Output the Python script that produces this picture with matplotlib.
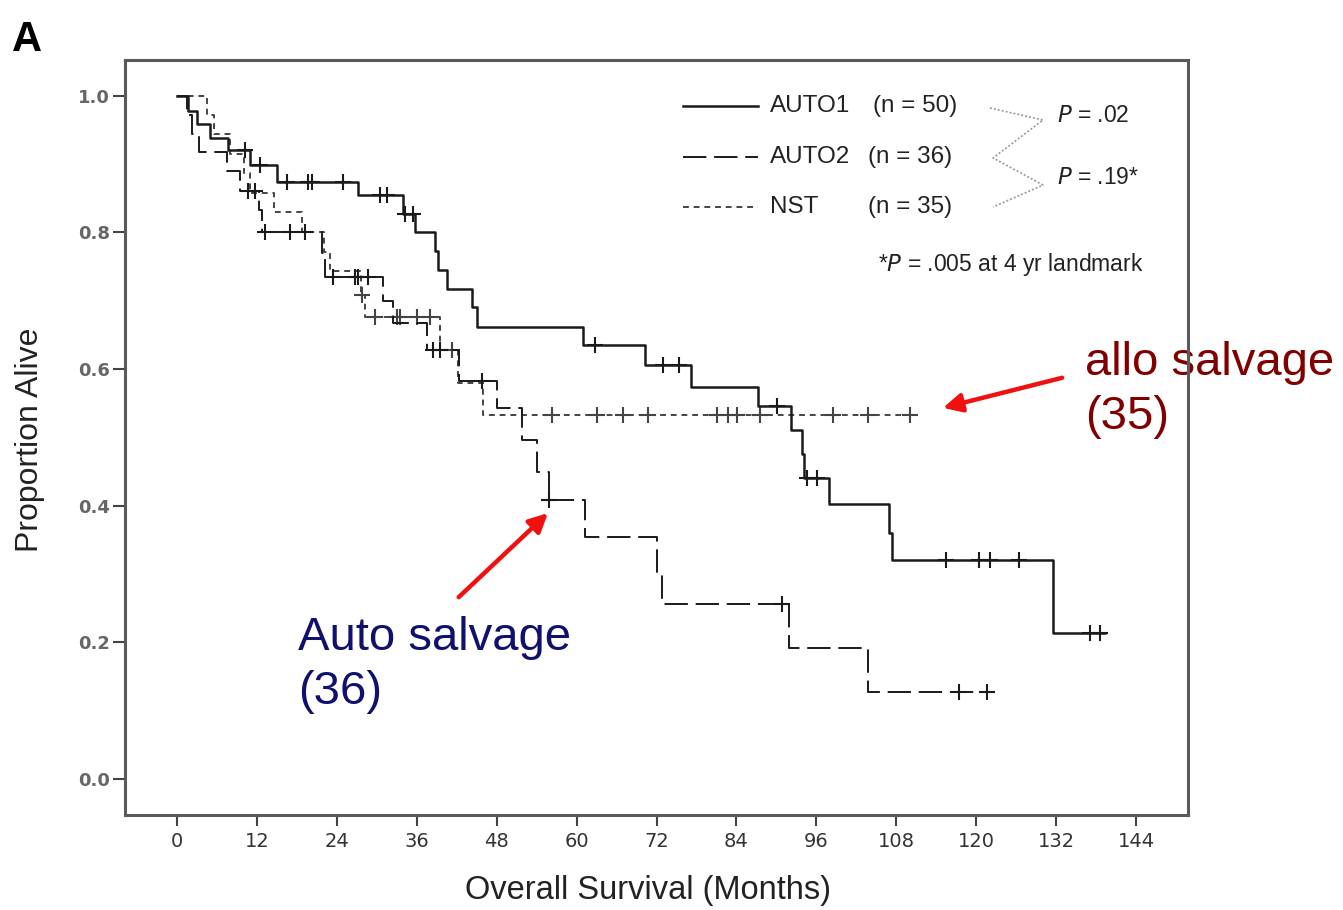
import matplotlib
matplotlib.use('Agg')
import matplotlib.pyplot as plt
import numpy as np
from matplotlib.ticker import FormatStrFormatter


# Kaplan-Meier steps (months, proportion alive) and censored times per group
auto1_times = [0, 1.7, 3.0, 5.0, 7.7, 11.0, 15.0, 27.2, 34.0, 35.7, 38.7, 39.2, 40.5, 44.3, 45.0,
               61.0, 70.3, 77.2, 87.2, 92.2, 93.8, 94.2, 97.9, 106.9, 107.4, 131.5, 139.3]
auto1_surv = [1.0, 0.978, 0.958, 0.938, 0.92, 0.898, 0.874, 0.854, 0.827, 0.80, 0.772, 0.745, 0.717,
              0.691, 0.662, 0.635, 0.606, 0.574, 0.545, 0.511, 0.476, 0.44, 0.403, 0.36, 0.32, 0.214, 0.214]
auto1_censored = [10.2, 12.5, 16.5, 19.7, 20.2, 25.0, 30.5, 31.5, 34.2, 35.4, 62.8, 73.0, 75.4,
                  90.1, 94.6, 96.1, 115.5, 120.4, 122.1, 126.4, 137.1, 138.6]

auto2_times = [0, 1.5, 2.2, 3.3, 7.5, 9.5, 12.3, 12.8, 21.8, 22.2, 31.0, 32.4, 37.5, 42.3, 48.0,
               51.8, 54.0, 55.9, 61.3, 72.1, 72.8, 91.9, 103.8, 122.0]
auto2_surv = [1.0, 0.972, 0.944, 0.917, 0.889, 0.861, 0.833, 0.80, 0.77, 0.735, 0.70, 0.667, 0.628,
              0.583, 0.543, 0.496, 0.449, 0.408, 0.354, 0.303, 0.256, 0.191, 0.127, 0.127]
auto2_censored = [10.7, 11.7, 13.2, 17.0, 19.2, 23.4, 26.7, 27.2, 28.7, 38.5, 39.5, 45.8, 55.9,
                  90.8, 117.4, 121.6]

nst_times = [0, 4.5, 5.5, 8.0, 10.0, 11.0, 14.5, 18.8, 22.0, 23.0, 27.6, 28.2, 39.5, 42.2, 46.0, 110.5]
nst_surv = [1.0, 0.971, 0.943, 0.914, 0.886, 0.857, 0.829, 0.80, 0.771, 0.743, 0.708, 0.676, 0.628,
            0.58, 0.533, 0.533]
nst_censored = [27.8, 29.7, 33.0, 33.5, 36.0, 38.0, 41.3, 56.3, 63.1, 67.0, 70.7, 81.1, 82.7, 84.1,
                87.5, 98.5, 103.8, 110.0]

group_names = ['AUTO1', 'AUTO2', 'NST']
group_sizes = ['(n = 50)', '(n = 36)', '(n = 35)']
p_values = ['$\\it{P}$ = .02', '$\\it{P}$ = .19*']
landmark_note = '*$\\it{P}$ = .005 at 4 yr landmark'
month_ticks = list(range(0, 145, 12))

SANS = ['Liberation Sans', 'DejaVu Sans']


def value_at(times: list[float], surv: list[float], t: float) -> float:
    idx = np.searchsorted(times, t, side='right') - 1
    return surv[idx]


def draw_curve(ax, times, surv, censored, color, lw, dashes) -> None:
    line, = ax.step(times, surv, where='post', color=color, lw=lw, zorder=3)
    if dashes is not None:
        line.set_dashes(dashes)
    marks = [value_at(times, surv, t) for t in censored]
    ax.plot(censored, marks, linestyle='none', marker='+', ms=11, mew=1.5, color=color, zorder=3)


def draw_key(ax, styles) -> None:
    rows_y = [0.939, 0.8715, 0.805]
    for (name, size, style, y) in zip(group_names, group_sizes, styles, rows_y):
        color, lw, dashes = style
        line, = ax.plot([0.525, 0.5955], [y, y], transform=ax.transAxes, color=color, lw=lw)
        if dashes is not None:
            line.set_dashes(dashes)
        ax.text(0.607, y, name, transform=ax.transAxes, va='center', ha='left',
                fontsize=17.5, family=SANS, color='#222')
        n_x = 0.7037 if name == 'AUTO1' else 0.699
        ax.text(n_x, y, size, transform=ax.transAxes, va='center', ha='left',
                fontsize=17.5, family=SANS, color='#222')

    # bracket joining the compared groups
    zig_x = [0.8137, 0.8636, 0.8166, 0.8636, 0.8166]
    zig_y = [0.9364, 0.9205, 0.8702, 0.8344, 0.8053]
    ax.plot(zig_x, zig_y, transform=ax.transAxes, color='#9a9a9a', lw=1.2, linestyle=(0, (1.2, 1.2)))
    ax.text(0.8768, 0.927, p_values[0], transform=ax.transAxes, va='center', ha='left',
            fontsize=16.5, family=SANS, color='#222')
    ax.text(0.8768, 0.8437, p_values[1], transform=ax.transAxes, va='center', ha='left',
            fontsize=16.5, family=SANS, color='#222')
    ax.text(0.7084, 0.7285, landmark_note, transform=ax.transAxes, va='center', ha='left',
            fontsize=16.5, family=SANS, color='#222')


def main() -> None:
    fig = plt.figure(figsize=(13.43, 9.10), dpi=100)
    ax = fig.add_axes([0.0931, 0.1044, 0.7915, 0.8297])

    styles = [('#1a1a1a', 1.8, None),
              ('#1a1a1a', 1.4, (12, 4)),
              ('#444444', 1.4, (3, 2.5))]
    draw_curve(ax, nst_times, nst_surv, nst_censored, *styles[2])
    draw_curve(ax, auto2_times, auto2_surv, auto2_censored, *styles[1])
    draw_curve(ax, auto1_times, auto1_surv, auto1_censored, *styles[0])
    draw_key(ax, styles)

    ax.set_xlim(-7.8, 151.8)
    ax.set_ylim(-0.0527, 1.052)
    ax.set_xticks(month_ticks)
    ax.set_yticks(np.arange(0, 1.01, 0.2))
    ax.yaxis.set_major_formatter(FormatStrFormatter('%.1f'))
    ax.tick_params(axis='x', direction='out', length=8, width=1.5, color='#444', pad=4,
                   labelsize=14, labelcolor='#333')
    ax.tick_params(axis='y', direction='out', length=9, width=1.5, color='#444', pad=2,
                   labelsize=13, labelcolor='#666')
    for label in ax.get_yticklabels():
        label.set_fontweight('bold')
    for spine in ax.spines.values():
        spine.set_color('#5a5a5a')
        spine.set_linewidth(2.2)

    fig.text(648 / 1343, 1 - 890 / 910, 'Overall Survival (Months)', ha='center', va='center',
             fontsize=23.5, family=SANS, color='#222')
    fig.text(30 / 1343, 1 - 440 / 910, 'Proportion Alive', ha='center', va='center',
             rotation=90, fontsize=23, family=SANS, color='#222')
    fig.text(0.009, 0.978, 'A', ha='left', va='top', fontsize=30, fontweight='bold',
             family=SANS, color='black')

    # callouts for the two salvage groups
    arrow = dict(arrowstyle='-|>', color='#f01010', lw=3.2, mutation_scale=28, shrinkA=0, shrinkB=0)
    ax.annotate('', xy=(115.0, 0.543), xytext=(132.9, 0.587), arrowprops=arrow,
                annotation_clip=False, zorder=2)
    ax.annotate('', xy=(55.7, 0.389), xytext=(42.3, 0.266), arrowprops=arrow,
                annotation_clip=False, zorder=2)
    ax.text(136.3, 0.569, 'allo salvage\n(35)', ha='left', va='center', fontsize=34,
            family=SANS, color='#800000', clip_on=False, zorder=2, linespacing=1.3)
    ax.text(18.2, 0.167, 'Auto salvage\n(36)', ha='left', va='center', fontsize=34,
            family=SANS, color='#10106e', clip_on=False, zorder=2, linespacing=1.3)

    fig.savefig('out.png', dpi=100)


if __name__ == '__main__':
    main()
